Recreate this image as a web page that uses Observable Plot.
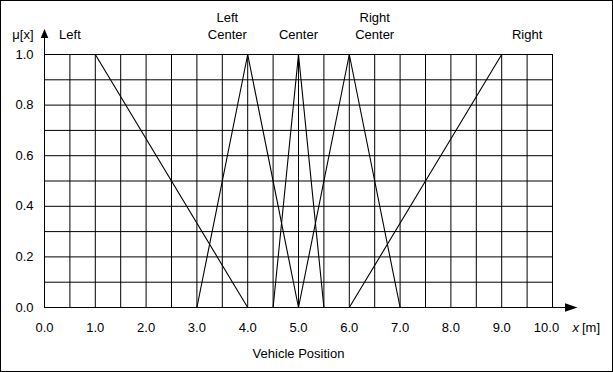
<!DOCTYPE html>
<html><head><meta charset="utf-8">
<script src="https://cdn.jsdelivr.net/npm/d3@7"></script>
<script src="https://cdn.jsdelivr.net/npm/@observablehq/plot@0.6"></script>
<style>body{margin:0;background:#fff} svg{display:block}</style>
</head><body><div id="chart"></div>
<script>
// Fuzzy sets: name, breakpoints (x) and membership (mu)
const setNames = ["Left", "Left Center", "Center", "Right Center", "Right"];
const setX  = [[0, 1, 4], [3, 4, 5], [4.5, 5, 5.5], [5, 6, 7], [6, 9, 10]];
const setMu = [[1, 1, 0], [0, 1, 0], [0, 1, 0], [0, 1, 0], [0, 1, 1]];
const labelX = [0.5, 3.6, 5, 6.5, 9.5];

const xTicks = [0, 1, 2, 3, 4, 5, 6, 7, 8, 9, 10];
const xTickLabels = ["0.0", "1.0", "2.0", "3.0", "4.0", "5.0", "6.0", "7.0", "8.0", "9.0", "10.0"];
const yTicks = [0, 0.2, 0.4, 0.6, 0.8, 1.0];
const yTickLabels = ["0.0", "0.2", "0.4", "0.6", "0.8", "1.0"];
const xGrid = [0, 0.5, 1, 1.5, 2, 2.5, 3, 3.5, 4, 4.5, 5, 5.5, 6, 6.5, 7, 7.5, 8, 8.5, 9, 9.5, 10];
const yGrid = [0, 0.1, 0.2, 0.3, 0.4, 0.5, 0.6, 0.7, 0.8, 0.9, 1.0];

const xTitle = "x";
const xUnit = "[m]";
const yTitle = "μ[x]";
const xLabel = "Vehicle Position";

const points = setNames.flatMap((name, i) => setX[i].map((x, j) => ({set: name, x, mu: setMu[i][j]})));
const lastTick = xTicks.length - 1;

// axis arrows drawn from the scales
function arrows(index, scales, values, dims) {
  const ns = "http://www.w3.org/2000/svg";
  const g = document.createElementNS(ns, "g");
  const x0 = Math.round(scales.x(0)) + 0.5;
  const yTop = scales.y(1);
  const xEnd = scales.x(10);
  const yBase = Math.round(scales.y(0)) + 0.5;
  const add = (tag, attrs) => { const e = document.createElementNS(ns, tag); for (const k in attrs) e.setAttribute(k, attrs[k]); g.appendChild(e); };
  add("line", {x1: x0, x2: x0, y1: yTop, y2: yTop - 18, stroke: "#000"});
  add("path", {d: `M${x0},${yTop - 25}L${x0 - 3.8},${yTop - 16}L${x0 + 3.8},${yTop - 16}Z`, fill: "#000"});
  add("line", {x1: xEnd, x2: xEnd + 14, y1: yBase, y2: yBase, stroke: "#000"});
  add("path", {d: `M${xEnd + 25.5},${yBase}L${xEnd + 13},${yBase - 4.2}L${xEnd + 13},${yBase + 4.2}Z`, fill: "#000"});
  return g;
}

const chart = Plot.plot({
  width: 613, height: 372,
  marginLeft: 44, marginRight: 61, marginTop: 54, marginBottom: 65,
  x: {domain: [0, 10], axis: null},
  y: {domain: [0, 1], axis: null},
  style: {fontFamily: "'Liberation Sans', Arial, sans-serif", fontSize: "13px", background: "#fff", color: "#000", overflow: "visible", outline: "1px solid #000", outlineOffset: "-1px"},
  marks: [
    Plot.ruleX(xGrid, {x: d => d, y1: 0, y2: 1, stroke: "#000", strokeWidth: 1}),
    Plot.ruleY(yGrid, {y: d => d, x1: 0, x2: 10, stroke: "#000", strokeWidth: 1}),
    Plot.line(points, {x: "x", y: "mu", z: "set", stroke: "#000", strokeWidth: 1.1}),
    arrows,
    Plot.text(xTicks, {filter: (d, i) => i < lastTick, x: d => d, y: 0, dy: 20, text: (d, i) => xTickLabels[i]}),
    Plot.text(xTicks, {filter: (d, i) => i === lastTick, x: d => d, y: 0, dx: -6, dy: 20, text: (d, i) => xTickLabels[i]}),
    Plot.text(yTicks, {x: 0, y: d => d, dx: -11, textAnchor: "end", text: (d, i) => yTickLabels[i]}),
    Plot.text(setNames, {x: (d, i) => labelX[i], y: 1, dy: -16, lineAnchor: "bottom", lineHeight: 1.25, text: d => d.replace(" ", "\n")}),
    Plot.text([yTitle], {x: 0, y: 1, dx: -11, dy: -16, lineAnchor: "bottom", textAnchor: "end", text: d => d}),
    Plot.text([xTitle], {x: 10, y: 0, dx: 20, dy: 20, textAnchor: "start", fontStyle: "italic", text: d => d}),
    Plot.text([xUnit], {x: 10, y: 0, dx: 29.5, dy: 20, textAnchor: "start", text: d => d}),
    Plot.text([xLabel], {x: 5, y: 0, dy: 46, text: d => d})
  ]
});
document.getElementById("chart").appendChild(chart);
</script>
</body></html>
